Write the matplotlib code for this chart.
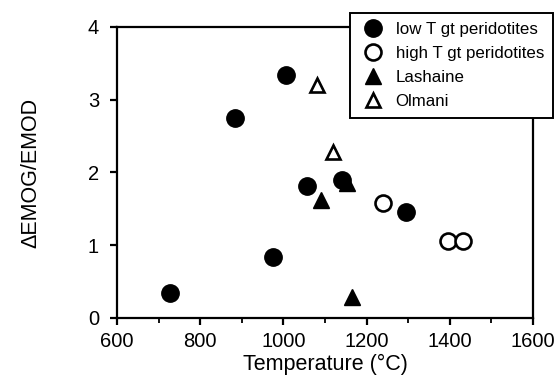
import matplotlib
matplotlib.use("Agg")
import matplotlib.pyplot as plt
from matplotlib.ticker import MultipleLocator

plt.rcParams["font.family"] = ["Liberation Sans", "DejaVu Sans"]

# low T gt peridotites (filled circles)
lowT_temp = [727, 884, 1006, 975, 1057, 1141, 1295]
lowT_val = [0.34, 2.75, 3.34, 0.84, 1.81, 1.90, 1.46]

# high T gt peridotites (open circles)
highT_temp = [1240, 1396, 1432]
highT_val = [1.58, 1.06, 1.06]

# Lashaine (filled triangles)
lash_temp = [1090, 1153, 1165]
lash_val = [1.62, 1.86, 0.29]

# Olmani (open triangles)
olm_temp = [1081, 1119]
olm_val = [3.20, 2.28]

fig = plt.figure(figsize=(5.58, 3.79), dpi=100)
ax = fig.add_axes([0.2097, 0.161, 0.7453, 0.768])

ax.plot(lowT_temp, lowT_val, "o", ms=12.5, mfc="black", mec="black",
        label="low T gt peridotites", zorder=3)
ax.plot(highT_temp, highT_val, "o", ms=11.5, mfc="white", mec="black", mew=1.9,
        label="high T gt peridotites", zorder=3)
ax.plot(lash_temp, lash_val, "^", ms=11.5, mfc="black", mec="black",
        label="Lashaine", zorder=2)
ax.plot(olm_temp, olm_val, "^", ms=10.5, mfc="white", mec="black", mew=1.9,
        label="Olmani", zorder=3)

ax.set_xlim(600, 1600)
ax.set_ylim(0, 4)
ax.xaxis.set_major_locator(MultipleLocator(200))
ax.xaxis.set_minor_locator(MultipleLocator(100))
ax.yaxis.set_major_locator(MultipleLocator(1))

for s in ax.spines.values():
    s.set_linewidth(1.6)
ax.tick_params(which="major", direction="out", length=5, width=1.6, labelsize=14.5)
ax.tick_params(axis="x", which="major", pad=5)
ax.tick_params(axis="y", which="major", pad=8)
ax.tick_params(which="minor", direction="out", length=3.5, width=1.3)

ax.set_xlabel("Temperature (°C)", fontsize=15.5, labelpad=2)
ax.set_ylabel("ΔEMOG/EMOD", fontsize=15.5, labelpad=33)

leg = fig.legend(loc="upper left", bbox_to_anchor=(0.627, 0.966), fontsize=12.2,
                 frameon=True, fancybox=False, framealpha=1, edgecolor="black",
                 handletextpad=0.55, labelspacing=0.53, borderpad=0.55,
                 handlelength=1.6, borderaxespad=0)
leg.get_frame().set_linewidth(1.4)

fig.savefig("out.png", dpi=100)
